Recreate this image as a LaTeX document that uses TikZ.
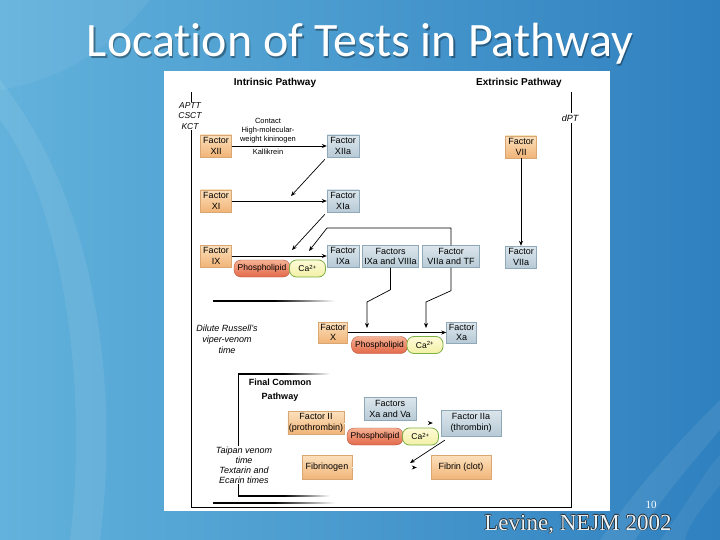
\documentclass[tikz,border=0pt]{standalone}
\usepackage{fontspec}
\setmainfont{Liberation Sans}
\newfontfamily\titlefont[Ligatures=NoCommon]{Carlito}
\newfontfamily\citefont{Liberation Serif}
\usetikzlibrary{arrows.meta,calc}

\definecolor{slidelight}{HTML}{62B2DC}
\definecolor{slidedark}{HTML}{2F80BF}
\definecolor{zymtop}{HTML}{FBE0BC}
\definecolor{zymbot}{HTML}{F1B477}
\definecolor{zymedge}{HTML}{D9A774}
\definecolor{acttop}{HTML}{DCE6EC}
\definecolor{actbot}{HTML}{B7CAD6}
\definecolor{actedge}{HTML}{90A9B9}
\definecolor{liptop}{HTML}{F6B193}
\definecolor{lipbot}{HTML}{E2694A}
\definecolor{lipedge}{HTML}{B4563A}
\definecolor{catop}{HTML}{FFFBD8}
\definecolor{cabot}{HTML}{F2F0A6}
\definecolor{caedge}{HTML}{7CB043}

\begin{document}
\begin{tikzpicture}[x=1pt,y=-1pt,
  every node/.style={font=\fontsize{9}{10.5}\selectfont, inner sep=1pt},
  zym/.style={draw=zymedge, top color=zymtop, bottom color=zymbot, align=center, minimum height=22},
  act/.style={draw=actedge, top color=acttop, bottom color=actbot, align=center, minimum height=22},
  lipid/.style={draw=lipedge, top color=liptop, bottom color=lipbot, rounded corners=7pt,
    minimum width=56, minimum height=17, font=\fontsize{8.5}{10}\selectfont},
  ion/.style={draw=caedge, line width=0.8pt, top color=catop, bottom color=cabot, rounded corners=7pt,
    minimum width=36, minimum height=17, font=\fontsize{8.5}{10}\selectfont},
  test/.style={font=\fontsize{9}{11}\selectfont\itshape, align=center},
  head/.style={font=\fontsize{10}{12}\selectfont\bfseries, align=center},
  arr/.style={line width=0.7pt, -{Stealth[length=5pt,width=4pt]}},
  ghost/.style={draw=white, line width=0.7pt, -{Stealth[length=5pt,width=4pt,color=black]}},
  fadeline/.style={left color=black, right color=white, middle color=black},
  citetext/.style={font=\citefont\fontsize{23}{25}\selectfont, anchor=base}]
\useasboundingbox (0,0) rectangle (720,540);

% slide background
\shade[left color=slidelight, right color=slidedark] (0,0) rectangle (720,540);
\fill[white, opacity=0.08] (0,120) .. controls (60,200) and (90,380) .. (70,540) -- (100,540) .. controls (120,380) and (95,200) .. (0,80) -- cycle;
\fill[white, opacity=0.06] (0,0) -- (150,0) .. controls (110,50) and (60,80) .. (0,90) -- cycle;
\fill[white, opacity=0.08] (600,540) .. controls (650,470) and (690,430) .. (720,400) -- (720,430) .. controls (690,465) and (660,500) .. (635,540) -- cycle;
\fill[white, opacity=0.06] (660,540) .. controls (690,500) and (705,470) .. (720,455) -- (720,485) .. controls (705,505) and (690,520) .. (685,540) -- cycle;

\node[font=\titlefont\fontsize{48}{50}\selectfont, text=black, opacity=0.35, anchor=base] (titleshadow) at (361.5,58.5) {Location of Tests in Pathway};
\node[font=\titlefont\fontsize{48}{50}\selectfont, text=white, anchor=base] (title) at (360,57) {Location of Tests in Pathway};

% figure panel
\fill[white] (164,71) rectangle (610,511);
\draw[line width=0.7pt] (191,92) |- (571,507) -- (571,92);
\shade[fadeline] (213,300.7) rectangle (335,301.3);
\shade[fadeline] (213,502.7) rectangle (335,503.3);
\shade[fadeline] (238,373.7) rectangle (330,374.3);
\shade[fadeline] (238,495.7) rectangle (330,496.3);
\draw[line width=0.7pt] (238,374) -- (238,496);

\node[head] (intr) at (275,83) {Intrinsic Pathway};
\node[head] (extr) at (519,83) {Extrinsic Pathway};
\node[test, fill=white, font=\fontsize{8.5}{10.5}\selectfont\itshape] (aptt) at (190,116) {APTT\\CSCT\\KCT};
\node[test, fill=white, inner sep=2pt] (dpt) at (570,118) {dPT};

% contact activation
\node[zym, minimum width=31] (f12) at (216,146) {Factor\\XII};
\node[act, minimum width=32] (f12a) at (343,146) {Factor\\XIIa};
\node[font=\fontsize{7.5}{9}\selectfont, align=center] (contact) at (268,131) {Contact\\High-molecular-\\weight kininogen};
\node[font=\fontsize{7.5}{9}\selectfont] (kalli) at (268,152) {Kallikrein};
\node[zym, minimum width=31] (f7) at (521,147) {Factor\\VII};

\node[zym, minimum width=31] (f11) at (216,201) {Factor\\XI};
\node[act, minimum width=32] (f11a) at (343,201) {Factor\\XIa};

\node[zym, minimum width=31] (f9) at (216,256) {Factor\\IX};
\node[act, minimum width=32] (f9a) at (343,256) {Factor\\IXa};
\node[act, minimum width=56] (f9a8a) at (390.5,256.5) {Factors\\IXa and VIIIa};
\node[act, minimum width=57] (f7atf) at (451,256.5) {Factor\\VIIa and TF};
\node[act, minimum width=31] (f7a) at (521,257) {Factor\\VIIa};
\node[lipid] (pl1) at (262,268.5) {Phospholipid};
\node[ion] (ca1) at (307.5,268.5) {Ca\textsuperscript{2+}};

% factor X
\node[test] (drvvt) at (227,339) {Dilute Russell's\\viper-venom\\time};
\node[zym, minimum width=29, minimum height=21] (f10) at (333,332.5) {Factor\\X};
\node[act, minimum width=30, minimum height=21] (f10a) at (461.5,332.5) {Factor\\Xa};
\node[lipid] (pl2) at (379.5,345) {Phospholipid};
\node[ion] (ca2) at (425,345) {Ca\textsuperscript{2+}};

% common pathway
\node[head, font=\fontsize{9}{13.4}\selectfont\bfseries] (fcp) at (280,390) {Final Common\\Pathway};
\node[act, minimum width=52, minimum height=23] (f10a5a) at (390,409) {Factors\\Xa and Va};
\node[zym, minimum width=55, minimum height=23] (f2) at (316,423) {Factor II\\(prothrombin)};
\node[lipid] (pl3) at (375,436.5) {Phospholipid};
\node[ion] (ca3) at (420.5,436.5) {Ca\textsuperscript{2+}};
\node[act, minimum width=60, minimum height=26] (f2a) at (471,423) {Factor IIa\\(thrombin)};
\node[test, fill=white, font=\fontsize{9}{10}\selectfont\itshape] (taipan) at (244,465) {Taipan venom\\time\\Textarin and\\Ecarin times};
\node[zym, minimum width=50, minimum height=24] (fbg) at (327,467.5) {Fibrinogen};
\node[zym, minimum width=60, minimum height=24] (fbn) at (461,467.5) {Fibrin (clot)};

% arrows
\coordinate (xi1) at (291,196);
\coordinate (ix1) at (292,250);
\coordinate (ix2) at (309,251);
\coordinate (x1) at (367,328);
\coordinate (x2) at (426,328);
\coordinate (fb1) at (410,463);
\draw[arr] (f12) -- (f12a);
\draw[arr] (f11) -- (f11a);
\draw[arr] (f9) -- (f9a);
\draw[arr] (f10) -- (f10a);
\draw[arr] (f7) -- (f7a);
\draw[arr, shorten <=3pt] (f12a.south west) -- (xi1);
\draw[arr, shorten <=3pt] (f11a.south west) -- (ix1);
\draw[arr] (f7atf.north) |- (327,228) -- (ix2);
\draw[arr] (f9a8a.south) -- ++(0,22) -- (367,302) -- (x1);
\draw[arr] (f7atf.south) -- ++(0,23) -- (426,302) -- (x2);
\draw[ghost, shorten >=8pt] (f2) -- (f2a);
\draw[ghost, shorten >=14pt] (fbg) -- (fbn);
\draw[arr] ($(f2a.south west)+(4,4)$) -- (fb1);

% footer
\node[font=\citefont\fontsize{11}{12}\selectfont, text=white] (pageno) at (651,505) {10};
\foreach \dx/\dy [count=\k] in {-0.7/0,0.7/0,0/-0.7,0/0.7}
  \node[citetext, text=black!85] (citeo\k) at (578+\dx,530+\dy) {Levine, NEJM 2002};
\node[citetext, text=white!85!slidelight] (cite) at (578,530) {Levine, NEJM 2002};
\end{tikzpicture}
\end{document}
